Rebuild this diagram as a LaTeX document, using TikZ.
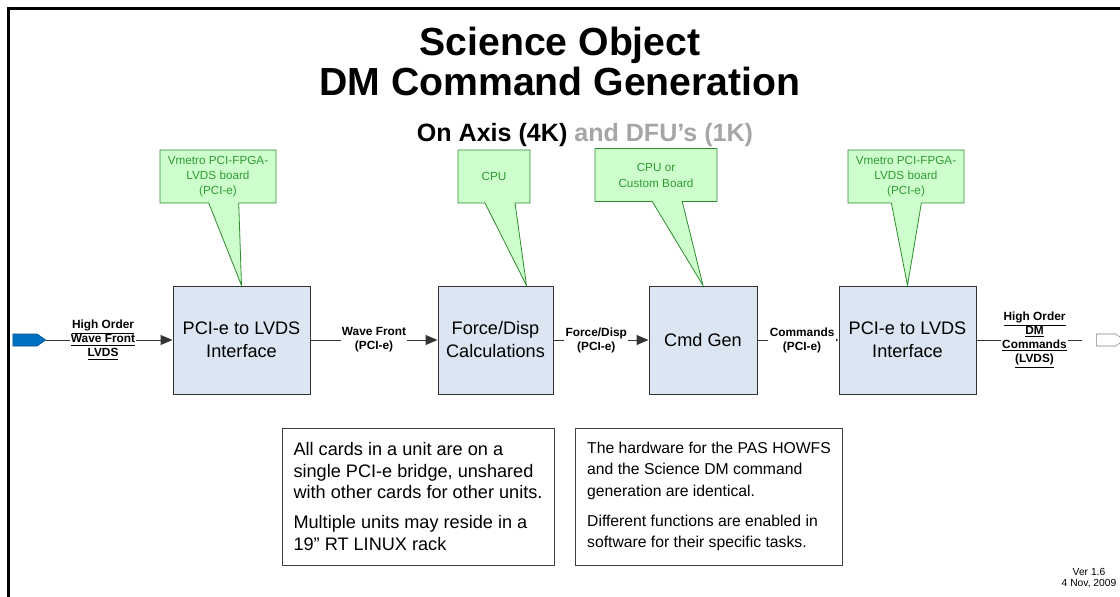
\documentclass[tikz,border=0pt]{standalone}
\usepackage{fontspec}
\setmainfont{Liberation Sans}
\usetikzlibrary{arrows.meta,shapes.callouts,shapes.symbols,calc}
\definecolor{boxblue}{HTML}{DCE6F2}
\definecolor{callfill}{HTML}{CCFFCC}
\definecolor{callline}{HTML}{2E8B2E}
\definecolor{calltext}{HTML}{339933}
\definecolor{subgray}{HTML}{A6A6A6}
\definecolor{portblue}{HTML}{0070C0}

\begin{document}
\begin{tikzpicture}[
		x=0.75pt, y=-0.75pt,
		stage/.style={draw=black!80, fill=boxblue, line width=0.75pt, minimum height=81pt, inner sep=0pt, align=center, font=\fontsize{13.6}{17.25}\selectfont},
		tag/.style={fill=white, inner sep=1pt, align=center, font=\bfseries\fontsize{8.9}{10.5}\selectfont},
		link/.style={draw=black!80, line width=0.75pt, -{Triangle[length=9pt,width=7.5pt]}},
		callout/.style={rectangle callout, draw=callline, fill=callfill, text=calltext, line width=0.6pt, minimum height=39.75pt, callout pointer width=22.5pt, inner sep=2pt, align=center, font=\fontsize{8.8}{11.25}\selectfont},
		note/.style={draw=black!75, line width=0.75pt, minimum height=102.75pt, inner xsep=8.5pt, align=left, font=\fontsize{13.6}{16.1}\selectfont},
		port/.style={signal, signal to=east, signal pointer angle=70, minimum width=24.75pt, minimum height=9pt, inner sep=0pt}
	]
	\useasboundingbox (0,0) rectangle (1120,596);
	\draw[line width=2.25pt] (8,620) -- (8,8) -- (1140,8);

	\node[align=center, font=\bfseries\fontsize{29.4}{30}\selectfont] (title) at (560,61) {Science Object\\DM Command Generation};
	\node[font=\bfseries\fontsize{18.8}{22}\selectfont] (sub) at (585,135) {On Axis (4K) \textcolor{subgray}{and DFU's (1K)}};

	\node[stage, minimum width=102.75pt] (b1) at (241.5,340) {PCI-e to LVDS\\Interface};
	\node[stage, minimum width=86.25pt] (b2) at (495.5,340) {Force/Disp\\Calculations};
	\node[stage, minimum width=81pt] (b3) at (703,340) {Cmd Gen};
	\node[stage, minimum width=102.75pt] (b4) at (907.5,340) {PCI-e to LVDS\\Interface};

	\node[port, fill=portblue, draw=portblue!70!black] (src) at (25,340) {};
	\node[port, fill=white, draw=black!50, minimum width=21pt] (dst) at (1106,340) {};
	\coordinate (tail) at (1082,340);

	\draw[link] (src.east) -- node[tag, pos=0.45] {\underline{High Order}\\\underline{Wave Front}\\\underline{LVDS}} (b1.west);
	\draw[link] (b1.east) -- node[tag] {Wave Front\\(PCI-e)} (b2.west);
	\draw[link] (b2.east) -- node[tag, pos=0.45] {Force/Disp\\(PCI-e)} (b3.west);
	\draw[link, -{Triangle[length=4pt,width=4pt]}] (b3.east) -- node[tag, pos=0.55] {Commands\\(PCI-e)} (b4.west);
	\draw[draw=black!80, line width=0.75pt] (b4.east) -- node[tag, pos=0.55] {\underline{High Order}\\\underline{DM}\\\underline{Commands}\\\underline{(LVDS)}} (tail);

	\node[callout, minimum width=87pt, callout absolute pointer={(b1.north)}] (c1) at (218,176.5) {Vmetro PCI-FPGA-\\LVDS board\\(PCI-e)};
	\node[callout, minimum width=54pt, callout absolute pointer={($(b2.north)+(31,0)$)}] (c2) at (494,176.5) {CPU};
	\node[callout, minimum width=91.5pt, font=\fontsize{8.8}{12}\selectfont, callout absolute pointer={(b3.north)}] (c3) at (656,175) {CPU or\\Custom Board};
	\node[callout, minimum width=87pt, callout absolute pointer={(b4.north)}] (c4) at (906,176.5) {Vmetro PCI-FPGA-\\LVDS board\\(PCI-e)};

	\node[note, minimum width=204pt] (n1) at (418,496.5) {All cards in a unit are on a\\single PCI-e bridge, unshared\\with other cards for other units.\\[6.4pt]Multiple units may reside in a\\19" RT LINUX rack};
	\node[note, minimum width=193.5pt, font=\fontsize{11.8}{16.1}\selectfont] (n2) at (709,496.5) {The hardware for the PAS HOWFS\\and the Science DM command\\generation are identical.\\[6.4pt]Different functions are enabled in\\software for their specific tasks.};

	\node[align=center, font=\fontsize{7.7}{7.7}\selectfont] (ver) at (1089,578) {Ver 1.6\\4 Nov, 2009};
\end{tikzpicture}
\end{document}
